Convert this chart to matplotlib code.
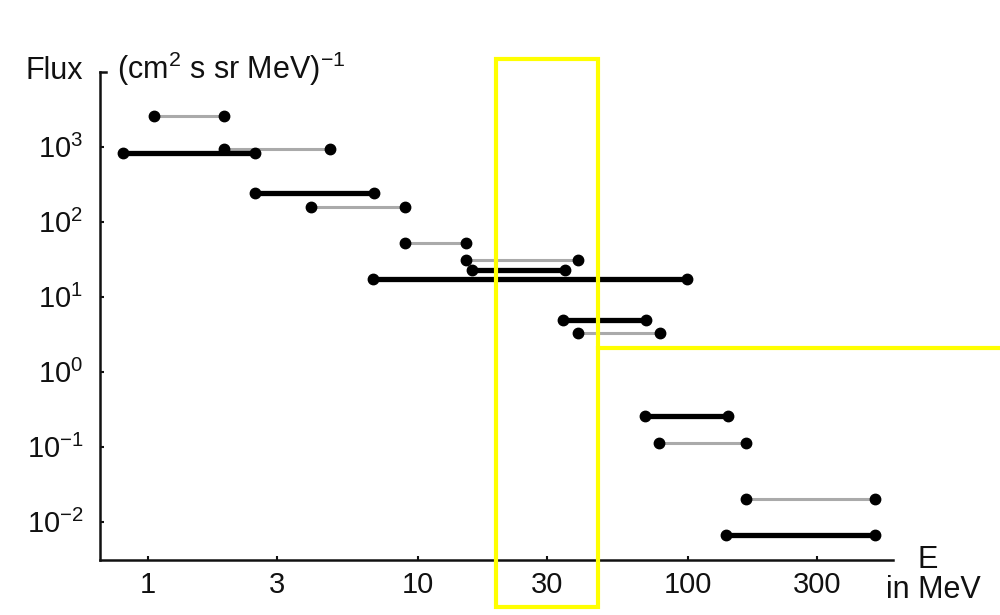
import matplotlib
matplotlib.use("Agg")
import matplotlib.pyplot as plt
from matplotlib.patches import Rectangle
from matplotlib.lines import Line2D

plt.rcParams['font.family'] = ['Liberation Sans', 'DejaVu Sans']
plt.rcParams['mathtext.fontset'] = 'custom'
plt.rcParams['mathtext.rm'] = 'Liberation Sans'
plt.rcParams['mathtext.default'] = 'regular'

# energy bins (MeV) and flux for each detector channel
black_lo = [0.81, 2.49, 6.83, 15.8, 34.5, 69.3, 138]
black_hi = [2.49, 6.87, 99.4, 35.0, 69.9, 140, 493]
black_flux = [817, 239, 17.4, 22.7, 4.89, 0.257, 0.00665]

gray_lo = [1.05, 1.91, 4.01, 8.95, 15.0, 39.2, 78.3, 164]
gray_hi = [1.91, 4.72, 8.95, 15.0, 39.2, 78.8, 164, 493]
gray_flux = [2590, 931, 156, 52.5, 30.9, 3.31, 0.111, 0.0201]

x_ticks = [1, 3, 10, 30, 100, 300]
x_labels = ['1', '3', '10', '30', '100', '300']
y_ticks = [1e-2, 1e-1, 1e0, 1e1, 1e2, 1e3]
y_labels = [r'$10^{-2}$', r'$10^{-1}$', r'$10^{0}$', r'$10^{1}$', r'$10^{2}$', r'$10^{3}$']

W, H = 1000, 615
fig = plt.figure(figsize=(10, 6.15), dpi=100)
ax = fig.add_axes([100 / W, 1 - 560 / H, 793 / W, 488 / H])
ax.set_xscale('log')
ax.set_yscale('log')
ax.set_xlim(0.664, 574)
ax.set_ylim(3.09e-3, 9900)

# gray channels first, black on top
for lo, hi, f in zip(gray_lo, gray_hi, gray_flux):
    ax.plot([lo, hi], [f, f], color='#aaaaaa', lw=2.2, marker='o', ms=7.5,
            mfc='black', mec='black', solid_capstyle='butt', zorder=2)
for lo, hi, f in zip(black_lo, black_hi, black_flux):
    ax.plot([lo, hi], [f, f], color='black', lw=3.8, marker='o', ms=7.5,
            mfc='black', mec='black', solid_capstyle='butt', zorder=3)

for side in ['top', 'right']:
    ax.spines[side].set_visible(False)
for side in ['left', 'bottom']:
    ax.spines[side].set_linewidth(1.8)
    ax.spines[side].set_color('#111111')

ax.set_xticks(x_ticks)
ax.set_xticklabels(x_labels)
ax.set_yticks(y_ticks)
ax.set_yticklabels(y_labels)
ax.minorticks_off()
ax.tick_params(axis='both', direction='in', length=3, width=1.5,
               labelsize=21, colors='#111111')
ax.tick_params(axis='x', pad=8)
ax.tick_params(axis='y', pad=12)

# small stub at the top of the y axis
fig.add_artist(Line2D([100 / W, 106 / W], [1 - 72 / H, 1 - 72 / H],
                      color='#111111', lw=1.8))

fig.text(25 / W, 1 - 79 / H, 'Flux', fontsize=22, color='#111111', va='baseline')
fig.text(117 / W, 1 - 79 / H, r'(cm$^{2}$ s sr MeV)$^{-1}$', fontsize=22,
         color='#111111', va='baseline')
fig.text(917 / W, 1 - 568 / H, 'E', fontsize=22, color='#111111', va='baseline')
fig.text(886 / W, 1 - 598 / H, 'in MeV', fontsize=22, color='#111111', va='baseline')

# yellow highlight
fig.add_artist(Rectangle((495.7 / W, 1 - 606.7 / H), 102.6 / W, 547.4 / H,
                         transform=fig.transFigure, fill=False,
                         edgecolor='#ffff00', lw=3))
fig.add_artist(Line2D([598.3 / W, 1.0], [1 - 348.3 / H, 1 - 348.3 / H],
                      color='#ffff00', lw=3))

fig.savefig('out.png', dpi=100)
